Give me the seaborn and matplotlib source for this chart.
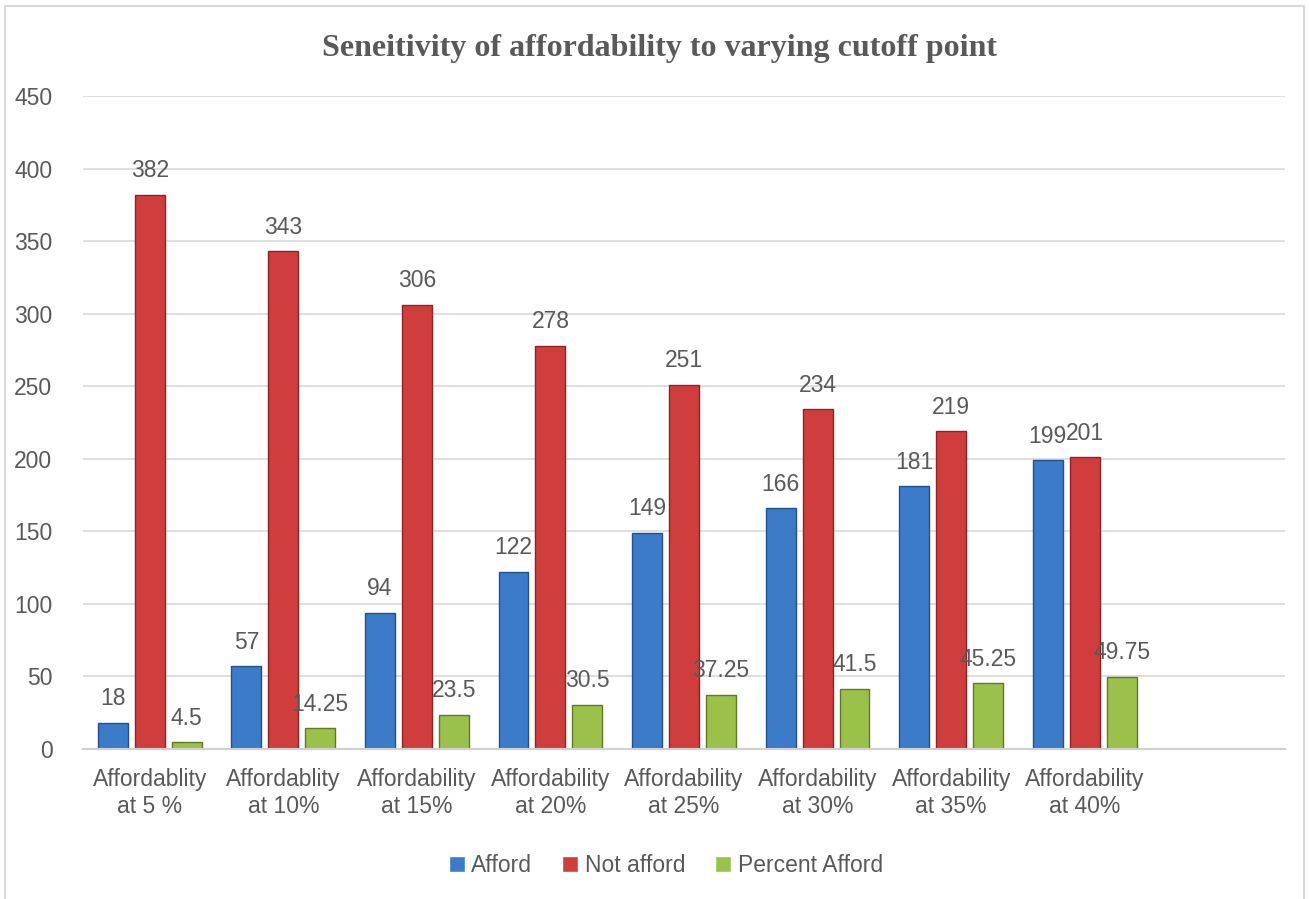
import numpy as np
import pandas as pd
import matplotlib
matplotlib.use('Agg')
import matplotlib.pyplot as plt
import seaborn as sns

# data
categories = ['Affordablity\nat 5 %', 'Affordablity\nat 10%', 'Affordability\nat 15%',
              'Affordability\nat 20%', 'Affordability\nat 25%', 'Affordability\nat 30%',
              'Affordability\nat 35%', 'Affordability\nat 40%']
afford = [18, 57, 94, 122, 149, 166, 181, 199]
not_afford = [382, 343, 306, 278, 251, 234, 219, 201]
percent_afford = [4.5, 14.25, 23.5, 30.5, 37.25, 41.5, 45.25, 49.75]
series = ['Afford', 'Not afford', 'Percent Afford']

df = pd.DataFrame({
    'cat': categories * 3,
    'series': [series[0]] * 8 + [series[1]] * 8 + [series[2]] * 8,
    'value': afford + not_afford + percent_afford,
})

sns.set_style('white')
plt.rcParams['font.family'] = ['Liberation Sans Narrow', 'Liberation Sans', 'DejaVu Sans']
gray = '#595959'
palette = {'Afford': '#3b7bc8', 'Not afford': '#cf3d3d', 'Percent Afford': '#9cc14a'}
edges = {'Afford': '#22508c', 'Not afford': '#8e2323', 'Percent Afford': '#5e7a26'}

fig = plt.figure(figsize=(13.09, 8.99), dpi=100)
ax = fig.add_axes([0.0634, 0.1669, 0.9183, 0.7263])

sns.barplot(data=df, x='cat', y='value', hue='series', order=categories,
            hue_order=series, palette=palette, width=0.83, gap=0.19,
            saturation=1, ax=ax, legend=True)

for cont, name in zip(ax.containers, series):
    for p in cont.patches:
        p.set_edgecolor(edges[name])
        p.set_linewidth(1.0)
    ax.bar_label(cont, labels=['{:g}'.format(v) for v in cont.datavalues],
                 padding=9, fontsize=16.5, color=gray)

ax.set_xlim(-0.5, len(categories) + 0.5)
ax.set_ylim(0, 450)
ax.set_yticks(np.arange(0, 451, 50))
ax.yaxis.grid(True, color='#d9d9d9', linewidth=1.2)
ax.set_axisbelow(True)
for s in ['top', 'right', 'left']:
    ax.spines[s].set_visible(False)
ax.spines['bottom'].set_color('#d0d0d0')
ax.spines['bottom'].set_linewidth(1.5)
ax.tick_params(axis='both', length=0, labelsize=16.5, labelcolor=gray)
ax.tick_params(axis='y', pad=22)
ax.tick_params(axis='x', pad=14)
ax.set_xlabel('')
ax.set_ylabel('')

leg = ax.legend(loc='upper center', bbox_to_anchor=(0.485, -0.13), ncol=3,
                frameon=False, fontsize=16.5, handlelength=0.7, handleheight=0.7,
                handletextpad=0.3, columnspacing=1.3)
for t in leg.get_texts():
    t.set_color(gray)

fig.text(0.504, 0.946, 'Seneitivity of affordability to varying cutoff point',
         ha='center', va='center', fontsize=23, fontweight='bold', color=gray,
         family=['Liberation Serif', 'DejaVu Serif'])

fig.patches.append(plt.Rectangle((0.004, -0.01), 0.992, 1.003, transform=fig.transFigure,
                                 fill=False, edgecolor='#d9d9d9', linewidth=1.5))

fig.savefig('out.png', dpi=100)
